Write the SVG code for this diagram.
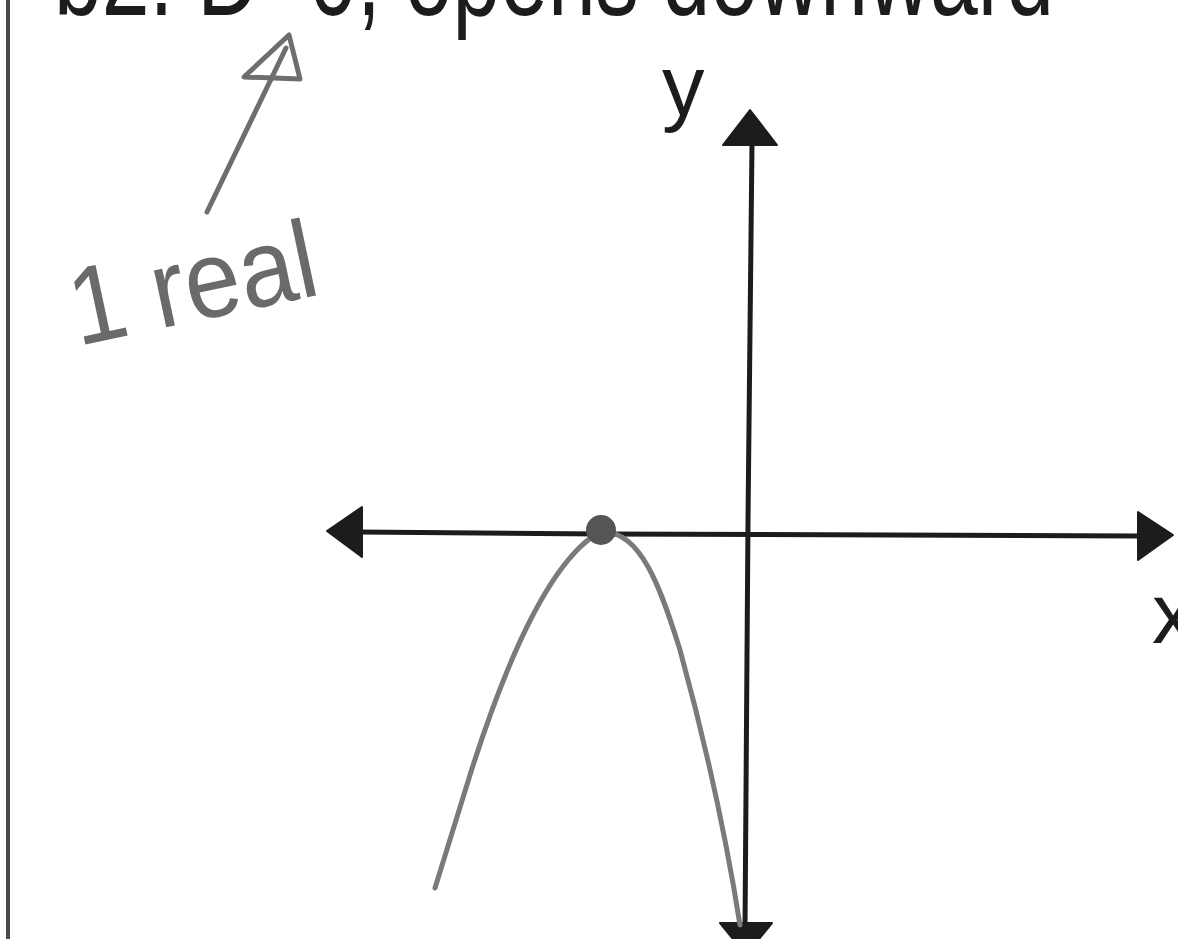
<svg xmlns="http://www.w3.org/2000/svg" width="1178" height="939" viewBox="0 0 1178 939">
<style>
.axis{stroke:#1c1c1c;stroke-width:5;fill:none;stroke-linecap:round}
.head{fill:#1c1c1c;stroke:#1c1c1c;stroke-width:2;stroke-linejoin:round}
.curve{stroke:#7a7a7a;stroke-width:5;fill:none;stroke-linecap:round;stroke-linejoin:round}
.hand{stroke:#6e6e6e;stroke-width:5;fill:none;stroke-linecap:round;stroke-linejoin:round}
.lbl{font-family:"Liberation Sans",Arial,sans-serif;fill:#1c1c1c}
</style>
<rect width="1178" height="939" fill="#ffffff"/>
<g id="border">
<line x1="8" y1="0" x2="8" y2="939" stroke="#4a4a4a" stroke-width="4"/>
</g>
<g id="title">
<text class="lbl" x="54" y="15" font-size="118" textLength="1000" lengthAdjust="spacingAndGlyphs">b2: D=0, opens downward</text>
</g>
<g id="connectors">
<g id="x-axis">
<path class="axis" d="M358,532 L600,534 L1140,536"/>
<polygon class="head" points="327,531 362,507 362,557"/>
<polygon class="head" points="1173,535 1138,512 1138,560"/>
</g>
<g id="y-axis">
<path class="axis" d="M752,143 L748,520 L745,930"/>
<polygon class="head" points="750,110 723,145 777,145"/>
<polygon class="head" points="746,955 720,923 772,923"/>
</g>
<g id="note-arrow">
<path class="hand" d="M207,212 L286,48"/>
<path class="hand" d="M244,77 L289,35 L300,79 Z" fill="#8a8a8a"/>
</g>
</g>
<g id="parabola">
<path class="curve" d="M435,888 L470,775 C500,680 545,565 598,533 C640,525 662,592 680,650 C702,730 725,830 740,925"/>
<circle cx="601" cy="530" r="15" fill="#555555"/>
</g>
<g id="label-y">
<text class="lbl" x="662" y="115" font-size="85">y</text>
</g>
<g id="label-x">
<text class="lbl" x="1152" y="643" font-size="85">x</text>
</g>
<g id="note">
<text x="78" y="346" font-family="'Liberation Sans',Arial,sans-serif" font-size="110" fill="#6a6a6a" textLength="250" lengthAdjust="spacingAndGlyphs" transform="rotate(-12 78 346)">1 real</text>
</g>
</svg>
